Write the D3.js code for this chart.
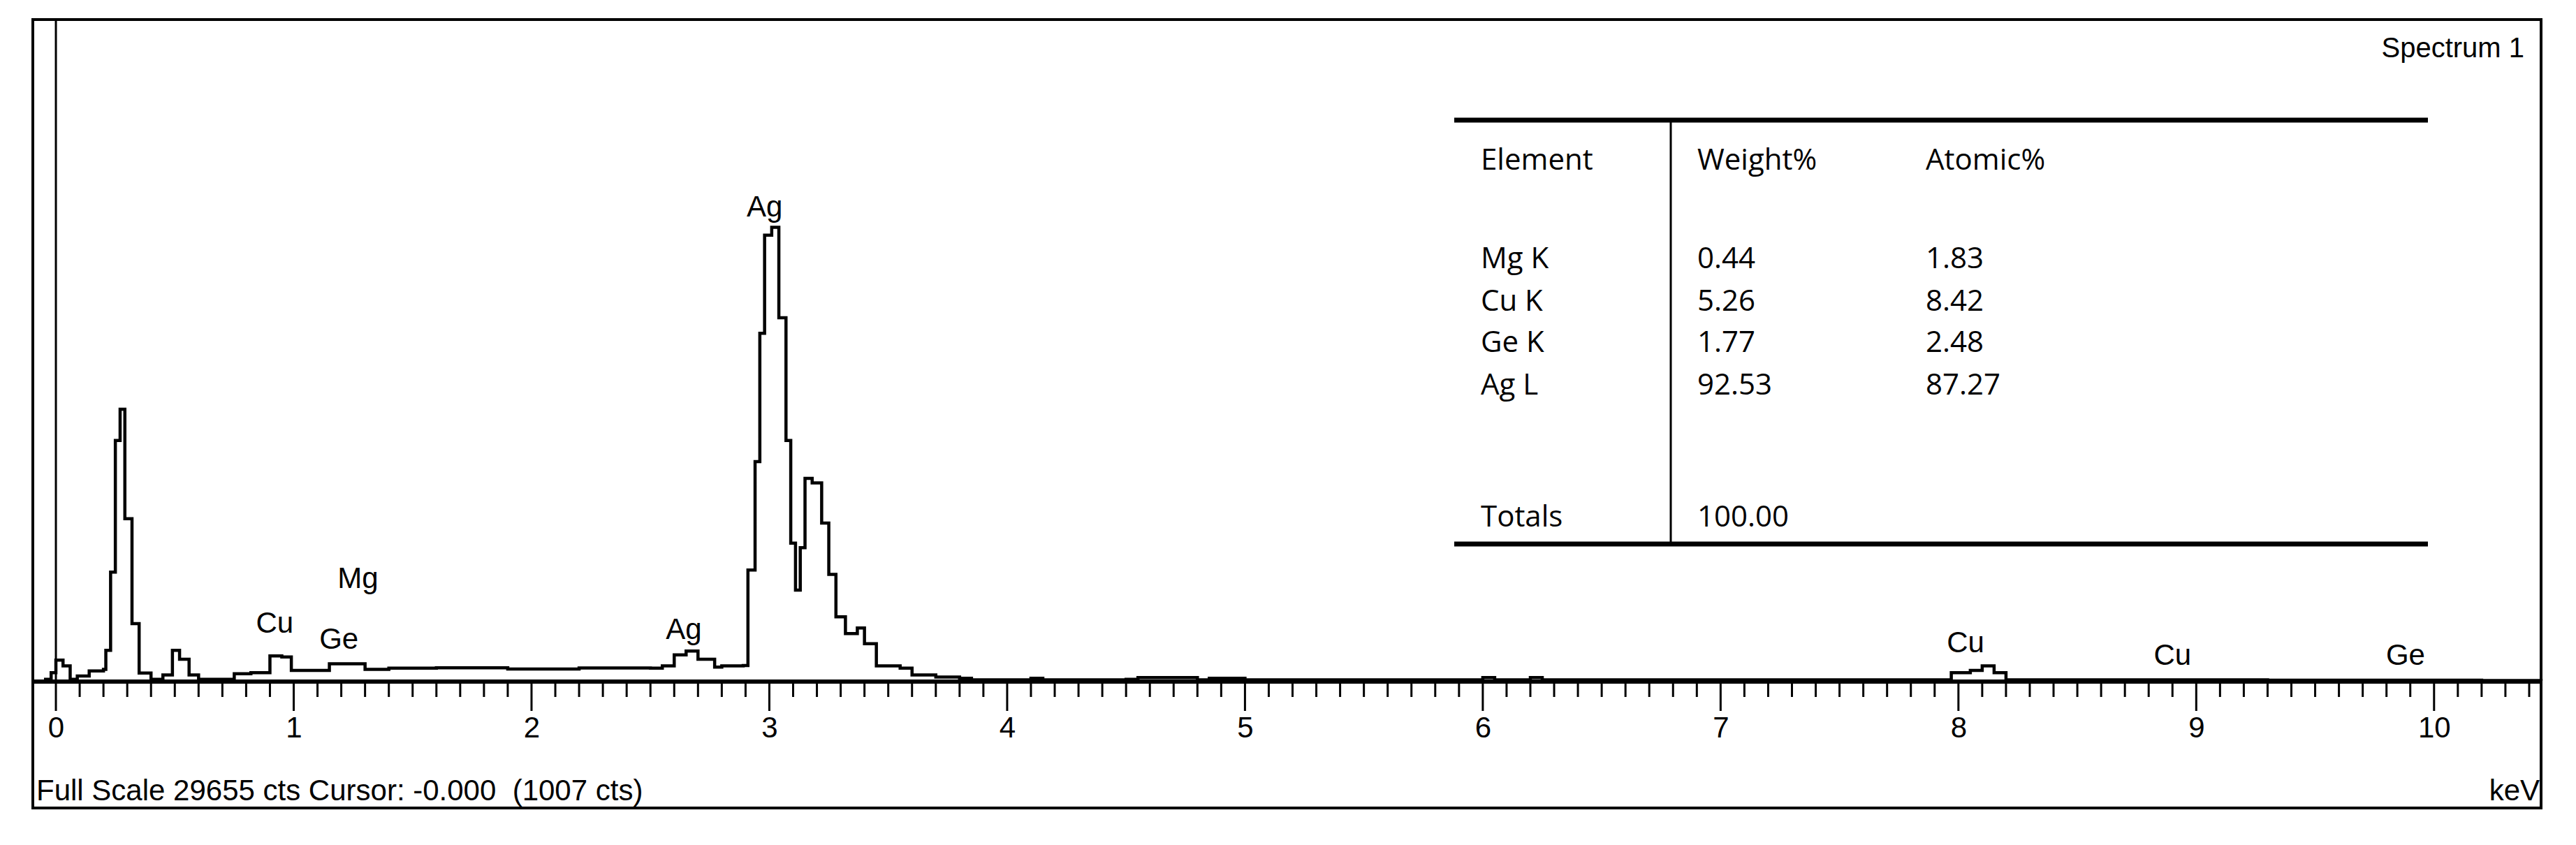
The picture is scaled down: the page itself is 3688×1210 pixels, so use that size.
<!DOCTYPE html>
<html><head><meta charset="utf-8">
<script src="https://cdn.jsdelivr.net/npm/d3@7"></script>
<style>body{margin:0;background:#fff}</style>
</head><body><div id="chart"></div>
<script>
var energy = [-0.05,-0.02,0.0,0.03,0.06,0.09,0.14,0.2,0.21,0.23,0.25,0.27,0.29,0.32,0.35,0.4,0.45,0.49,0.52,0.56,0.6,0.75,0.82,0.9,0.95,0.99,1.1,1.15,1.25,1.3,1.4,1.6,1.9,2.2,2.5,2.55,2.6,2.65,2.7,2.77,2.8,2.89,2.91,2.94,2.96,2.98,3.01,3.04,3.07,3.09,3.11,3.13,3.15,3.18,3.22,3.25,3.28,3.32,3.37,3.4,3.45,3.55,3.6,3.7,3.8,3.85,4.0,4.1,4.15,4.5,4.55,4.8,4.85,5.0,6.0,6.05,6.2,6.25,7.9,7.97,8.05,8.1,8.15,8.2,9.3,10.2,10.45];
var counts = [100,400,960,700,100,250,480,550,1400,4900,10800,12200,7300,2600,380,100,300,1400,1000,300,100,350,400,1150,1100,500,500,800,800,550,600,620,560,610,600,700,1200,1370,1000,650,700,720,5000,9850,15600,20000,20350,16300,10800,6200,4100,6000,9100,8900,7100,4800,2900,2150,2400,1700,700,600,300,200,150,80,80,150,80,100,180,80,150,80,180,80,180,80,80,400,500,700,400,80,60,50,40];

var peakNames = ["Ag","Mg","Cu","Ge","Ag","Cu","Cu","Ge"];
var peakKeV = [2.98,1.27,0.92,1.19,2.64,8.03,8.9,9.88];
var peakCts = [20830,4200,2200,1470,1910,1320,740,740];

var tableHead = ["Element","Weight%","Atomic%"];
var elements = ["Mg K","Cu K","Ge K","Ag L"];
var weightPct = ["0.44","5.26","1.77","92.53"];
var atomicPct = ["1.83","8.42","2.48","87.27"];
var totalWeight = "100.00";
var fullScale = 29655;

var W = 3688, H = 1210,
	leftX = 47, rightX = 3638, topY = 28, bottomY = 1157, base = 976;

var svg = d3.select("#chart").append("svg").attr("width", W).attr("height", H)
	.style("font-family","'Liberation Sans', Arial, sans-serif");

var x = d3.scaleLinear().domain([-0.097, 10.45]).range([leftX, rightX]);
var y = d3.scaleLinear().domain([0, fullScale]).range([base, topY]);

svg.append("rect").attr("x", leftX).attr("y", topY).attr("width", rightX-leftX).attr("height", bottomY-topY)
	.attr("fill","none").attr("stroke","#000").attr("stroke-width",4);

// cursor line at 0
svg.append("line").attr("x1", x(0)).attr("x2", x(0)).attr("y1", topY).attr("y2", base)
	.attr("stroke","#000").attr("stroke-width",3);

// spectrum
var line = d3.line().x(function(d,i){ return x(energy[i]); }).y(function(d){ return y(d); })
	.curve(d3.curveStepAfter);
svg.append("path").datum(counts).attr("d", line).attr("fill","none")
	.attr("stroke","#000").attr("stroke-width",4.5);

// axis baseline + ticks
svg.append("line").attr("x1", leftX).attr("x2", rightX).attr("y1", base).attr("y2", base)
	.attr("stroke","#000").attr("stroke-width",6);
var minor = d3.range(0, 105).map(function(i){ return i/10; });
svg.selectAll(".mt").data(minor).enter().append("line")
	.attr("x1", function(d){ return x(d); }).attr("x2", function(d){ return x(d); })
	.attr("y1", base).attr("y2", function(d,i){ return base + (i%10===0 ? 42 : 22); })
	.attr("stroke","#000").attr("stroke-width",3);
var axis = d3.axisBottom(x).tickValues(d3.range(0,11)).tickSize(0).tickPadding(0);
var g = svg.append("g").attr("transform","translate(0,"+(base+50)+")").call(axis);
g.select(".domain").remove();
g.selectAll("text").attr("font-size",42).attr("font-family","'Liberation Sans', Arial, sans-serif")
	.attr("fill","#000").attr("dy","0.71em");

// peak labels
svg.selectAll(".pk").data(peakNames).enter().append("text")
	.attr("x", function(d,i){ return x(peakKeV[i]); })
	.attr("y", function(d,i){ return y(peakCts[i]); })
	.attr("text-anchor","middle").attr("font-size",42).text(function(d){ return d; });

svg.append("text").attr("x", 3614).attr("y", 82).attr("text-anchor","end")
	.attr("font-size",40).text("Spectrum 1");
svg.append("text").attr("x", 52).attr("y", 1146).attr("font-size",42)
	.text("Full Scale " + fullScale + " cts Cursor: -0.000\u00a0\u00a0(1007 cts)");
svg.append("text").attr("x", 3636).attr("y", 1146).attr("text-anchor","end")
	.attr("font-size",42).text("keV");

// table
var t = svg.append("g").style("font-family","'Open Sans', 'Noto Sans', sans-serif").attr("font-size",42);
t.append("line").attr("x1",2082).attr("x2",3476).attr("y1",172).attr("y2",172).attr("stroke","#000").attr("stroke-width",7);
t.append("line").attr("x1",2082).attr("x2",3476).attr("y1",779).attr("y2",779).attr("stroke","#000").attr("stroke-width",7);
t.append("line").attr("x1",2392).attr("x2",2392).attr("y1",172).attr("y2",779).attr("stroke","#000").attr("stroke-width",3);
var cols = [2120, 2430, 2757];
tableHead.forEach(function(h,i){
	t.append("text").attr("x", cols[i]).attr("y", 228).attr("dy","0.35em").text(h);
});
var rowsY = [369, 430, 489, 550];
elements.forEach(function(e,i){
	t.append("text").attr("x", cols[0]).attr("y", rowsY[i]).attr("dy","0.35em").text(e);
	t.append("text").attr("x", cols[1]).attr("y", rowsY[i]).attr("dy","0.35em").text(weightPct[i]);
	t.append("text").attr("x", cols[2]).attr("y", rowsY[i]).attr("dy","0.35em").text(atomicPct[i]);
});
t.append("text").attr("x", cols[0]).attr("y", 739).attr("dy","0.35em").text("Totals");
t.append("text").attr("x", cols[1]).attr("y", 739).attr("dy","0.35em").text(totalWeight);
</script>
</body></html>
